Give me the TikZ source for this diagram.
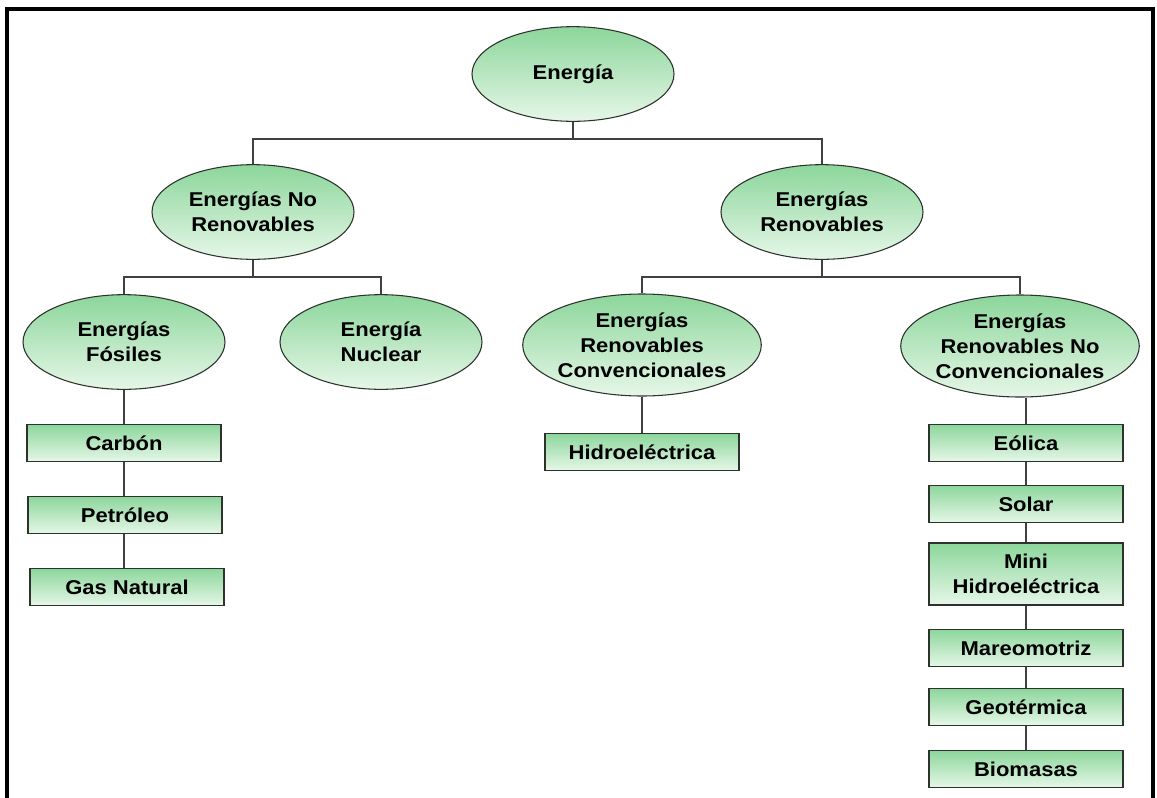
\documentclass[tikz,border=0pt]{standalone}
\usepackage{fontspec}
\setmainfont[FakeStretch=1.1]{Liberation Sans}
\usepackage{tikz}
\usetikzlibrary{shapes.geometric}

\definecolor{verdeTop}{RGB}{140,214,155}
\definecolor{verdeBot}{RGB}{230,247,232}
\definecolor{borde}{RGB}{45,50,45}

\tikzset{
  oval/.style={ellipse, draw=borde, line width=0.8pt, top color=verdeTop, bottom color=verdeBot,
    minimum width=151.5pt, minimum height=71pt, inner sep=0pt, align=center,
    font=\bfseries\fontsize{15}{18.7}\selectfont},
  ovalgrande/.style={oval, minimum width=158pt, minimum height=76.5pt},
  caja/.style={rectangle, draw=borde, line width=0.8pt, top color=verdeTop, bottom color=verdeBot,
    minimum width=145.5pt, minimum height=28pt, inner sep=0pt, align=center,
    font=\bfseries\fontsize{15}{18.7}\selectfont},
  linea/.style={draw=black!75, line width=0.9pt},
  marco/.style={draw=black, line width=2.4pt}
}

\begin{document}
\begin{tikzpicture}[x=0.75pt,y=-0.75pt]
	\useasboundingbox (0,0) rectangle (1157,797);
	\draw[marco] (7,800) -- (7,9) -- (1153,9) -- (1153,800);
	%
	\node[oval] (E) at (573,74) {Energía};
	\node[oval] (NR) at (253,212) {Energías No\\Renovables};
	\node[oval] (R) at (822,212) {Energías\\Renovables};
	\node[oval] (Fos) at (124,342) {Energías\\Fósiles};
	\node[oval] (Nuc) at (381,342) {Energía\\Nuclear};
	\node[ovalgrande] (Conv) at (642,345) {Energías\\Renovables\\Convencionales};
	\node[ovalgrande] (NoConv) at (1020,346) {Energías\\Renovables No\\Convencionales};
	%
	\node[caja] (Car) at (124,443) {Carbón};
	\node[caja] (Pet) at (125,515) {Petróleo};
	\node[caja] (Gas) at (127,587) {Gas Natural};
	\node[caja] (Hid) at (642,452) {Hidroeléctrica};
	\node[caja] (Eol) at (1026,443) {Eólica};
	\node[caja] (Sol) at (1026,504) {Solar};
	\node[caja, minimum height=46.5pt] (Min) at (1026,574) {Mini\\Hidroeléctrica};
	\node[caja] (Mar) at (1026,648) {Mareomotriz};
	\node[caja] (Geo) at (1026,707) {Geotérmica};
	\node[caja] (Bio) at (1026,769) {Biomasas};
	%
	\coordinate (bus1) at (573,139);
	\coordinate (bus2) at (253,277);
	\coordinate (bus3) at (822,277);
	%
	\path[linea]
	(E.south) -- (E.south |- bus1) -| (NR.north)
	(E.south |- bus1) -| (R.north)
	(NR.south) -- (NR.south |- bus2) -| (Fos.north)
	(NR.south |- bus2) -| (Nuc.north)
	(R.south) -- (R.south |- bus3) -| (Conv.north)
	(R.south |- bus3) -| (NoConv.north)
	(Fos.south) -- (Car.north)
	(Car.south) -- (Car.south |- Pet.north)
	(Pet.south -| Car.south) -- (Car.south |- Gas.north)
	(Conv.south) -- (Hid.north)
	(NoConv.south -| Eol.north) -- (Eol.north)
	(Eol.south) -- (Sol.north)
	(Sol.south) -- (Min.north)
	(Min.south) -- (Mar.north)
	(Mar.south) -- (Geo.north)
	(Geo.south) -- (Bio.north);
\end{tikzpicture}
\end{document}
